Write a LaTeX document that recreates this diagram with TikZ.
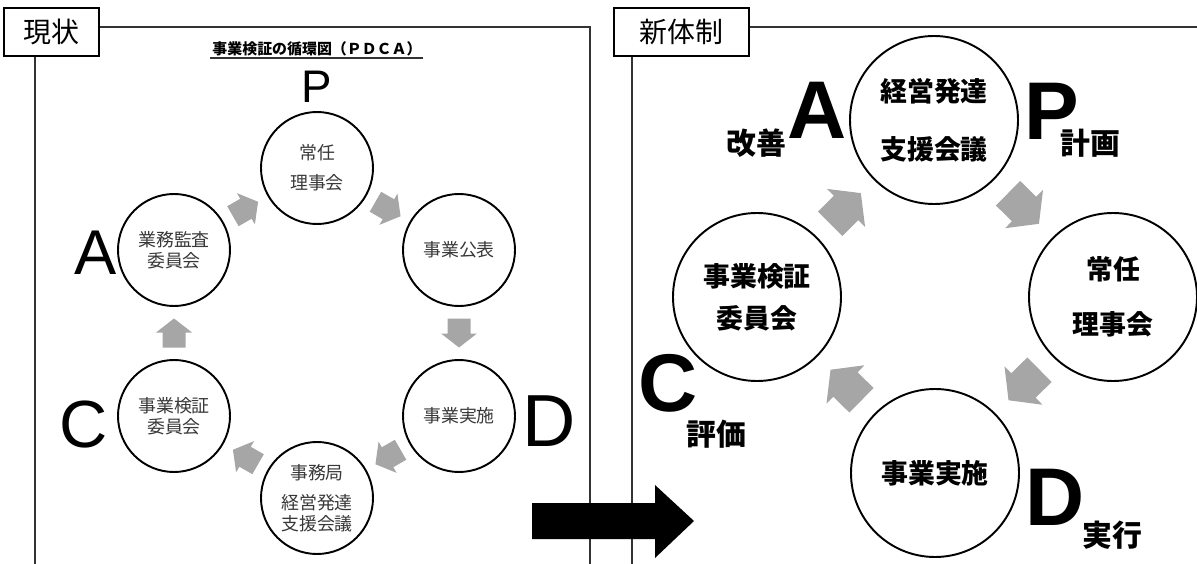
\documentclass[tikz,border=0pt]{standalone}
\usepackage{fontspec}
\setmainfont{Liberation Sans}
\newfontfamily\jp{Noto Sans CJK JP}
\definecolor{arrowgray}{RGB}{166,166,166}
\begin{document}
\begin{tikzpicture}[x=0.02cm,y=-0.02cm,
  ln/.style={draw=black!80, line width=0.6pt},
  tagbox/.style={draw=black, line width=1pt, fill=white, inner sep=0pt, font=\jp\fontsize{15.9}{18}\selectfont},
  lcirc/.style={circle, draw, line width=1.1pt, minimum size=112*0.02cm, inner sep=0pt, align=center, text=black!78, font=\jp\fontsize{10.2}{12}\selectfont},
  rcirc/.style={circle, draw, line width=1.1pt, minimum size=168*0.02cm, inner sep=0pt, align=center, font=\jp\bfseries\fontsize{15.3}{18}\selectfont},
  letter/.style={inner sep=0pt},
  rletter/.style={inner sep=0pt, font=\bfseries\fontsize{46.6}{50}\selectfont},
  rlabel/.style={inner sep=0pt, font=\jp\bfseries\fontsize{17}{20}\selectfont},
  onpath/.style={pos=.5, sloped, allow upside down},
  cyc arrow/.pic={\fill[arrowgray] (-14.5,-11.5) -- (0.5,-11.5) -- (0.5,-18) -- (14.5,0) -- (0.5,18) -- (0.5,11.5) -- (-14.5,11.5) -- cycle;}
]
\useasboundingbox (0,0) rectangle (1197,564);

% ---------- left panel frame ----------
\draw[ln] (99,27) -- (590,27) -- (590,564);
\draw[ln] (35,56) -- (35,564);
\node[tagbox, minimum width=95*0.02cm, minimum height=48*0.02cm] (tagL) at (51.5,32) {現状};

% title
\node[inner sep=0pt, font=\jp\bfseries\fontsize{8.5}{10}\selectfont] (title) at (317,49) {事業検証の循環図（ＰＤＣＡ）};
\draw[black!80, line width=0.6pt] (210,58) -- (423,58);

% circles
\node[lcirc] (lP)   at (317,168) {常任\\[5pt]理事会};
\node[lcirc] (lPub) at (459,250) {事業公表};
\node[lcirc] (lDo)  at (459,416) {事業実施};
\node[lcirc] (lSec) at (317,498) {事務局\\[5pt]経営発達\\支援会議};
\node[lcirc] (lChk) at (174,416) {事業検証\\委員会};
\node[lcirc] (lAud) at (174,250) {業務監査\\委員会};

% letters
\node[letter, font=\fontsize{26}{28}\selectfont] (lLP) at (317,87) {P};
\node[letter, font=\fontsize{36}{40}\selectfont] (lLA) at (96,253) {A};
\node[letter, font=\fontsize{38}{42}\selectfont] (lLC) at (84,425) {C};
\node[letter, font=\fontsize{42}{46}\selectfont] (lLD) at (549,421) {D};

% cycle arrows
\path (lP) -- pic[onpath]{cyc arrow} (lPub);
\path (lPub) -- pic[onpath]{cyc arrow} (lDo);
\path (lDo) -- pic[onpath]{cyc arrow} (lSec);
\path (lSec) -- pic[onpath]{cyc arrow} (lChk);
\path (lChk) -- pic[onpath]{cyc arrow} (lAud);
\path (lAud) -- pic[onpath]{cyc arrow} (lP);

% ---------- right panel frame ----------
\draw[ln] (749,27) -- (1197,27);
\draw[ln] (632,56) -- (632,564);
\node[tagbox, minimum width=135*0.02cm, minimum height=48*0.02cm] (tagR) at (681.5,32) {新体制};

\node[rcirc] (rPlan)  at (934,120) {経営発達\\[15pt]支援会議};
\node[rcirc] (rBoard) at (1113,297) {常任\\[13pt]理事会};
\node[rcirc] (rDo)    at (935,473) {事業実施};
\node[rcirc] (rChk)   at (757,297) {事業検証\\[6pt]委員会};

\node[rletter] (rLA) at (817,110) {A};
\node[rletter] (rLP) at (1052,111) {P};
\node[rletter] (rLC) at (668,383) {C};
\node[rletter] (rLD) at (1055,497) {D};

\node[rlabel] (kaizen) at (756,143) {改善};
\node[rlabel] (keikaku) at (1090,143) {計画};
\node[rlabel] (hyoka) at (716,434) {評価};
\node[rlabel] (jikko) at (1112,535) {実行};

\path (rPlan) -- pic[onpath, scale=1.5]{cyc arrow} (rBoard);
\path (rBoard) -- pic[onpath, scale=1.5]{cyc arrow} (rDo);
\path (rDo) -- pic[onpath, scale=1.5]{cyc arrow} (rChk);
\path (rChk) -- pic[onpath, scale=1.5]{cyc arrow} (rPlan);

% ---------- transition arrow ----------
\fill (532,503) -- (655,503) -- (655,485) -- (694,521) -- (655,558) -- (655,539) -- (532,539) -- cycle;
\end{tikzpicture}
\end{document}
